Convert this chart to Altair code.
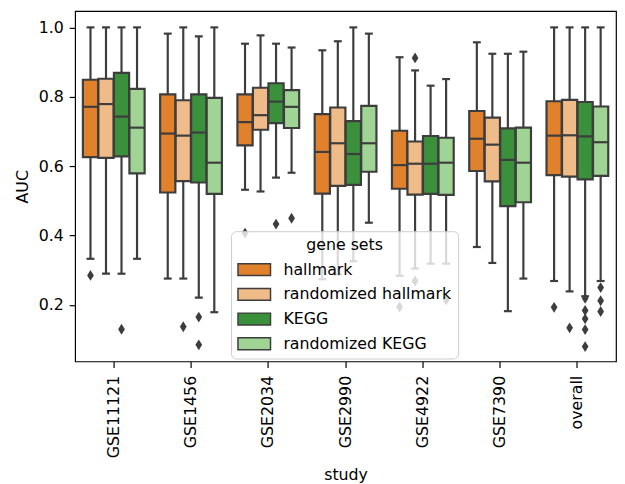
import altair as alt
import pandas as pd

studies = ["GSE11121", "GSE1456", "GSE2034", "GSE2990", "GSE4922", "GSE7390", "overall"]
gene_sets = ["hallmark", "randomized hallmark", "KEGG", "randomized KEGG"]
colors = ["#e1812c", "#eebb89", "#3b913b", "#9fd495"]

# box statistics per gene set, in study order
whisker_high = {
    "hallmark":            [1.000, 0.982, 0.953, 0.934, 0.914, 0.957, 1.000],
    "randomized hallmark": [1.000, 1.000, 0.977, 0.960, 0.876, 0.924, 1.000],
    "KEGG":                [1.000, 0.974, 0.953, 1.000, 0.832, 0.924, 1.000],
    "randomized KEGG":     [1.000, 1.000, 0.942, 0.982, 0.851, 0.930, 1.000],
}
q3 = {
    "hallmark":            [0.849, 0.807, 0.807, 0.750, 0.702, 0.759, 0.787],
    "randomized hallmark": [0.852, 0.790, 0.826, 0.769, 0.671, 0.740, 0.791],
    "KEGG":                [0.869, 0.807, 0.839, 0.730, 0.687, 0.709, 0.785],
    "randomized KEGG":     [0.823, 0.797, 0.819, 0.774, 0.682, 0.711, 0.772],
}
median = {
    "hallmark":            [0.771, 0.694, 0.727, 0.641, 0.603, 0.679, 0.688],
    "randomized hallmark": [0.779, 0.688, 0.747, 0.666, 0.607, 0.662, 0.689],
    "KEGG":                [0.743, 0.697, 0.786, 0.635, 0.607, 0.618, 0.686],
    "randomized KEGG":     [0.711, 0.610, 0.771, 0.666, 0.610, 0.610, 0.669],
}
q1 = {
    "hallmark":            [0.626, 0.524, 0.660, 0.521, 0.535, 0.586, 0.574],
    "randomized hallmark": [0.624, 0.557, 0.705, 0.543, 0.518, 0.556, 0.570],
    "KEGG":                [0.628, 0.553, 0.724, 0.546, 0.520, 0.485, 0.562],
    "randomized KEGG":     [0.579, 0.520, 0.710, 0.584, 0.517, 0.496, 0.572],
}
whisker_low = {
    "hallmark":            [0.333, 0.276, 0.532, 0.274, 0.284, 0.367, 0.269],
    "randomized hallmark": [0.290, 0.276, 0.527, 0.288, 0.305, 0.321, 0.239],
    "KEGG":                [0.290, 0.221, 0.567, 0.326, 0.319, 0.182, 0.225],
    "randomized KEGG":     [0.333, 0.179, 0.581, 0.437, 0.319, 0.276, 0.269],
}

outlier_study = ["GSE11121", "GSE11121", "GSE1456", "GSE1456", "GSE1456",
                 "GSE2034", "GSE2034", "GSE2034",
                 "GSE4922", "GSE4922", "GSE4922", "GSE4922",
                 "overall", "overall", "overall", "overall", "overall", "overall", "overall",
                 "overall", "overall", "overall"]
outlier_set = ["hallmark", "KEGG", "randomized hallmark", "KEGG", "KEGG",
               "hallmark", "KEGG", "randomized KEGG",
               "hallmark", "randomized hallmark", "randomized hallmark", "randomized KEGG",
               "hallmark", "randomized hallmark", "KEGG", "KEGG", "KEGG", "KEGG", "KEGG",
               "randomized KEGG", "randomized KEGG", "randomized KEGG"]
outlier_value = [0.285, 0.130, 0.137, 0.165, 0.085,
                 0.407, 0.433, 0.450,
                 0.194, 0.912, 0.269, 0.214,
                 0.193, 0.134, 0.219, 0.184, 0.160, 0.129, 0.080,
                 0.250, 0.212, 0.181]

rows = []
for g in gene_sets:
    for i, s in enumerate(studies):
        rows.append({"study": s, "gene_set": g, "low": whisker_low[g][i], "q1": q1[g][i],
                     "med": median[g][i], "q3": q3[g][i], "high": whisker_high[g][i]})
box_df = pd.DataFrame(rows)
out_df = pd.DataFrame({"study": outlier_study, "gene_set": outlier_set, "value": outlier_value})

gray = "#3d3d3d"
font = "DejaVu Sans"
lw = 2.2

x_enc = alt.X("study:N", sort=studies, title="study",
              scale=alt.Scale(paddingInner=0, paddingOuter=0),
              axis=alt.Axis(labelAngle=270, labelFontSize=16, titleFontSize=16,
                            titleFontWeight="normal", labelColor="black", titleColor="black",
                            tickColor="black", tickSize=6, tickWidth=1.2, labelPadding=8,
                            titlePadding=9, domain=False))
xo_enc = alt.XOffset("gene_set:N", sort=gene_sets,
                     scale=alt.Scale(paddingInner=0.02, paddingOuter=0.5))
yscale = alt.Scale(domain=[0.037, 1.047], nice=False, zero=False)
yaxis = alt.Axis(values=[0.2, 0.4, 0.6, 0.8, 1.0], format=".1f", grid=False,
                 labelFontSize=16, titleFontSize=16, titleFontWeight="normal",
                 labelColor="black", titleColor="black", tickColor="black",
                 tickSize=6, tickWidth=1.2, labelPadding=6, titlePadding=8, domain=False)


def yq(field):
    return alt.Y(f"{field}:Q", title="AUC", scale=yscale, axis=yaxis)


base = alt.Chart(box_df)

whiskers = base.mark_rule(color=gray, strokeWidth=lw).encode(
    x=x_enc, xOffset=xo_enc, y=yq("low"), y2="high:Q")
cap_low = base.mark_tick(color=gray, thickness=lw, size=8, opacity=1).encode(
    x=x_enc, xOffset=xo_enc, y=yq("low"))
cap_high = base.mark_tick(color=gray, thickness=lw, size=8, opacity=1).encode(
    x=x_enc, xOffset=xo_enc, y=yq("high"))

legend = alt.Legend(
    title="gene sets", orient="none", legendX=158, legendY=223,
    fillColor="rgba(255,255,255,0.8)", strokeColor="#cccccc", cornerRadius=5,
    padding=6, titleAnchor="middle", titleAlign="center", titleFontSize=16,
    titleFontWeight="normal", titleColor="black", titleFont=font,
    labelFontSize=16, labelColor="black", labelFont=font, labelLimit=400,
    symbolType="M-1,-0.75L3.12,-0.75L3.12,0.75L-1,0.75Z", symbolSize=256,
    symbolStrokeColor=gray, symbolStrokeWidth=1.5, symbolOpacity=1,
    labelOffset=29, rowPadding=7, titlePadding=8, zindex=5)

boxes = base.mark_bar(stroke=gray, strokeWidth=lw, opacity=1).encode(
    x=x_enc, xOffset=xo_enc, y=yq("q1"), y2="q3:Q",
    color=alt.Color("gene_set:N", sort=gene_sets,
                    scale=alt.Scale(domain=gene_sets, range=colors), legend=legend))
medians = base.mark_tick(color=gray, thickness=lw, size=15.4, opacity=1).encode(
    x=x_enc, xOffset=xo_enc, y=yq("med"))
fliers = alt.Chart(out_df).mark_point(
    shape="M0,-1L0.62,0L0,1L-0.62,0Z", filled=True, size=121, color=gray, opacity=1
).encode(x=x_enc, xOffset=xo_enc, y=yq("value"))

chart = alt.layer(whiskers, cap_low, cap_high, boxes, medians, fliers).properties(
    width=548, height=355,
    autosize=alt.AutoSizeParams(type="none"),
    padding={"left": 68, "top": 0, "right": 1, "bottom": 121},
).configure(font=font).configure_view(stroke="black", strokeWidth=1.2)

chart.save("out.html", embed_options={"renderer": "svg", "actions": False})
